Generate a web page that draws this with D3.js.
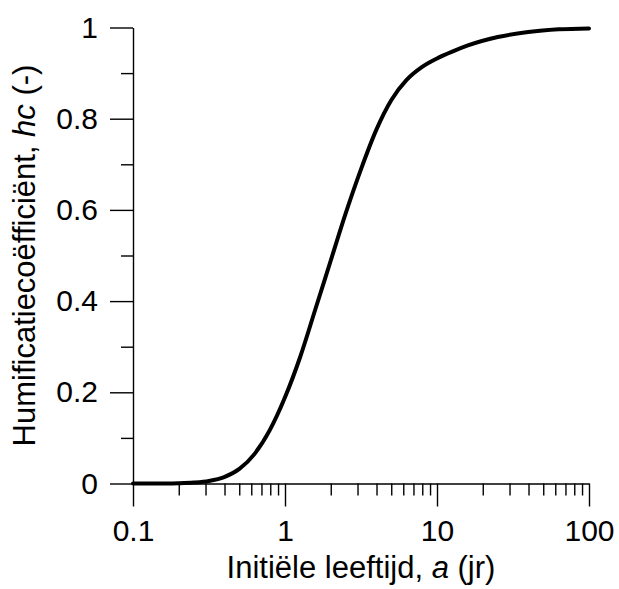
<!DOCTYPE html>
<html>
<head>
<meta charset="utf-8">
<script src="https://cdn.jsdelivr.net/npm/d3@7"></script>
<style>
  body { margin: 0; background: #fff; }
  text { font-family: "Liberation Sans", Arial, sans-serif; fill: #000; }
  .axis path, .axis line { stroke: #000; stroke-width: 1.4; }
</style>
</head>
<body>
<div id="wrapper"></div>
<script>
// Data: initial age a (yr) and humification coefficient hc
const ageValues = [0.1, 0.126, 0.158, 0.2, 0.251, 0.316, 0.398, 0.501, 0.631, 0.794, 1, 1.26, 1.58,
  2.0, 2.51, 3.16, 3.98, 5.01, 6.31, 7.94, 10, 12.6, 15.8, 25.1, 39.8, 63.1, 100]
const hcValues = [0, 0, 0.0001, 0.0006, 0.002, 0.0055, 0.014, 0.032, 0.065, 0.117, 0.189, 0.278, 0.381,
  0.489, 0.593, 0.689, 0.775, 0.841, 0.885, 0.913, 0.932, 0.947, 0.96, 0.979, 0.99, 0.996, 0.998]

const xMajorTicks = [0.1, 1, 10, 100]
const xTickLabels = ['0.1', '1', '10', '100']
const yMajorTicks = [0, 0.2, 0.4, 0.6, 0.8, 1]
const yTickLabels = ['0', '0.2', '0.4', '0.6', '0.8', '1']
const yMinorTicks = [0.1, 0.3, 0.5, 0.7, 0.9]

// minor ticks on the log axis: 2..9 in every decade
const xMinorTicks = []
xMajorTicks.slice(0, -1).forEach(d => {
  for (let k = 2; k <= 9; k++) xMinorTicks.push(d * k)
})

const data = ageValues.map((a, i) => ({ a, hc: hcValues[i] }))

// Dimensions
const dimensions = {
  width: 619,
  height: 589,
  margin: { top: 27.5, right: 30, bottom: 105.5, left: 133 },
}
dimensions.boundedWidth = dimensions.width - dimensions.margin.left - dimensions.margin.right
dimensions.boundedHeight = dimensions.height - dimensions.margin.top - dimensions.margin.bottom

const wrapper = d3.select('#wrapper')
  .append('svg')
  .attr('width', dimensions.width)
  .attr('height', dimensions.height)

const bounds = wrapper.append('g')
  .attr('transform', `translate(${dimensions.margin.left},${dimensions.margin.top})`)

// Scales
const xScale = d3.scaleLog()
  .domain([0.1, 100])
  .range([0, dimensions.boundedWidth])

const yScale = d3.scaleLinear()
  .domain([0, 1])
  .range([dimensions.boundedHeight, 0])

// Axes
const majorLen = 23
const minorLen = 12

const xMinorAxis = bounds.append('g')
  .attr('class', 'axis')
  .attr('transform', `translate(0,${dimensions.boundedHeight})`)
  .call(d3.axisBottom(xScale).tickValues(xMinorTicks).tickSize(minorLen).tickSizeOuter(0).tickFormat(''))
xMinorAxis.select('.domain').remove()

const xAxis = bounds.append('g')
  .attr('class', 'axis')
  .attr('transform', `translate(0,${dimensions.boundedHeight})`)
  .call(d3.axisBottom(xScale)
    .tickValues(xMajorTicks)
    .tickSize(majorLen)
    .tickSizeOuter(0)
    .tickPadding(13.5)
    .tickFormat((d, i) => xTickLabels[i]))
xAxis.selectAll('text').style('font-size', '30px')

const yMinorAxis = bounds.append('g')
  .attr('class', 'axis')
  .call(d3.axisLeft(yScale).tickValues(yMinorTicks).tickSize(minorLen).tickSizeOuter(0).tickFormat(''))
yMinorAxis.select('.domain').remove()

const yAxis = bounds.append('g')
  .attr('class', 'axis')
  .call(d3.axisLeft(yScale)
    .tickValues(yMajorTicks)
    .tickSize(majorLen)
    .tickSizeOuter(0)
    .tickPadding(12)
    .tickFormat((d, i) => yTickLabels[i]))
yAxis.selectAll('text').style('font-size', '30px')

// Curve
const lineGenerator = d3.line()
  .x(d => xScale(d.a))
  .y(d => yScale(d.hc))
  .curve(d3.curveMonotoneX)

bounds.append('path')
  .datum(data)
  .attr('d', lineGenerator)
  .attr('fill', 'none')
  .attr('stroke', '#000')
  .attr('stroke-width', 4)
  .attr('stroke-linejoin', 'round')
  .attr('stroke-linecap', 'round')

// Axis titles
const xTitle = wrapper.append('text')
  .attr('x', dimensions.margin.left + dimensions.boundedWidth / 2)
  .attr('y', 578)
  .attr('text-anchor', 'middle')
  .style('font-size', '31px')
xTitle.append('tspan').text('Initiële leeftijd, ')
xTitle.append('tspan').style('font-style', 'italic').text('a')
xTitle.append('tspan').text(' (jr)')

const yTitle = wrapper.append('text')
  .attr('transform', `translate(35,${dimensions.margin.top + dimensions.boundedHeight / 2}) rotate(-90)`)
  .attr('text-anchor', 'middle')
  .style('font-size', '31px')
yTitle.append('tspan').text('Humificatiecoëfficiënt, ')
yTitle.append('tspan').style('font-style', 'italic').text('hc')
yTitle.append('tspan').text(' (-)')
</script>
</body>
</html>
